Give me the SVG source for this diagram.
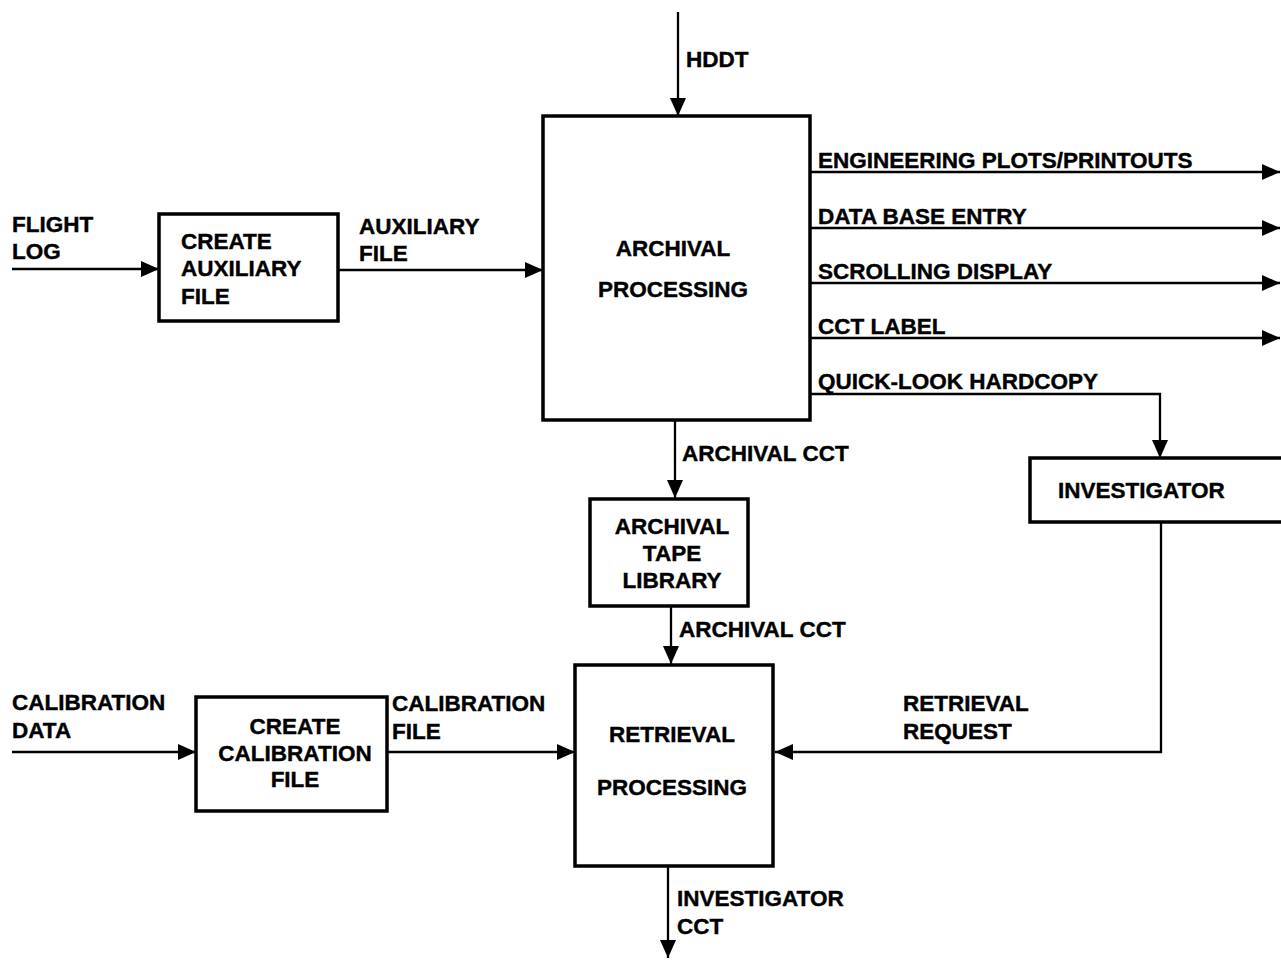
<svg xmlns="http://www.w3.org/2000/svg" width="1281" height="960" viewBox="0 0 1281 960">
<style>
text{font-family:"Liberation Sans",Arial,sans-serif;font-weight:bold;font-size:22.5px;fill:#000;stroke:#000;stroke-width:0.4}
.c{text-anchor:middle}
.box{fill:none;stroke:#000;stroke-width:3.5}
.ln{fill:none;stroke:#000;stroke-width:2.3}
</style>
<defs>
<marker id="ah" markerUnits="userSpaceOnUse" markerWidth="18" markerHeight="16" viewBox="0 0 18 16" refX="18" refY="8" orient="auto">
<path d="M0,0 L18,8 L0,16 Z" fill="#000"/>
</marker>
</defs>
<rect width="1281" height="960" fill="#fff"/>
<g id="connectors">
<line class="ln" x1="678" y1="12" x2="678" y2="116" marker-end="url(#ah)"/>
<line class="ln" x1="12" y1="269" x2="159" y2="269" marker-end="url(#ah)"/>
<line class="ln" x1="338" y1="270" x2="543" y2="270" marker-end="url(#ah)"/>
<line class="ln" x1="810" y1="172" x2="1280" y2="172" marker-end="url(#ah)"/>
<line class="ln" x1="810" y1="228" x2="1280" y2="228" marker-end="url(#ah)"/>
<line class="ln" x1="810" y1="283" x2="1280" y2="283" marker-end="url(#ah)"/>
<line class="ln" x1="810" y1="338" x2="1280" y2="338" marker-end="url(#ah)"/>
<polyline class="ln" points="810,394 1160,394 1160,458" marker-end="url(#ah)"/>
<line class="ln" x1="675" y1="420" x2="675" y2="498" marker-end="url(#ah)"/>
<line class="ln" x1="671" y1="606" x2="671" y2="664" marker-end="url(#ah)"/>
<polyline class="ln" points="1161,522 1161,752 775,752" marker-end="url(#ah)"/>
<line class="ln" x1="668" y1="866" x2="668" y2="958" marker-end="url(#ah)"/>
<line class="ln" x1="12" y1="752" x2="196" y2="752" marker-end="url(#ah)"/>
<line class="ln" x1="387" y1="752" x2="575" y2="752" marker-end="url(#ah)"/>
<text x="686" y="67">HDDT</text>
<text x="12" y="232">FLIGHT</text>
<text x="12" y="259">LOG</text>
<text x="359" y="234">AUXILIARY</text>
<text x="359" y="261">FILE</text>
<text x="818" y="168">ENGINEERING PLOTS/PRINTOUTS</text>
<text x="818" y="224">DATA BASE ENTRY</text>
<text x="818" y="279">SCROLLING DISPLAY</text>
<text x="818" y="334">CCT LABEL</text>
<text x="818" y="389">QUICK-LOOK HARDCOPY</text>
<text x="682" y="461">ARCHIVAL CCT</text>
<text x="679" y="637">ARCHIVAL CCT</text>
<text x="903" y="711">RETRIEVAL</text>
<text x="903" y="739">REQUEST</text>
<text x="12" y="710">CALIBRATION</text>
<text x="12" y="738">DATA</text>
<text x="392" y="711">CALIBRATION</text>
<text x="392" y="739">FILE</text>
<text x="677" y="906">INVESTIGATOR</text>
<text x="677" y="934">CCT</text>
</g>
<g id="archival-processing">
<rect class="box" x="543" y="116" width="267" height="304"/>
<text class="c" x="673" y="256">ARCHIVAL</text>
<text class="c" x="673" y="297">PROCESSING</text>
</g>
<g id="create-auxiliary-file">
<rect class="box" x="159" y="214" width="179" height="107"/>
<text x="181" y="249">CREATE</text>
<text x="181" y="276">AUXILIARY</text>
<text x="181" y="304">FILE</text>
</g>
<g id="investigator">
<rect class="box" x="1030" y="458" width="260" height="64"/>
<text x="1058" y="498">INVESTIGATOR</text>
</g>
<g id="archival-tape-library">
<rect class="box" x="590" y="499" width="158" height="107"/>
<text class="c" x="672" y="534">ARCHIVAL</text>
<text class="c" x="672" y="561">TAPE</text>
<text class="c" x="672" y="588">LIBRARY</text>
</g>
<g id="retrieval-processing">
<rect class="box" x="575" y="665" width="198" height="201"/>
<text class="c" x="672" y="742">RETRIEVAL</text>
<text class="c" x="672" y="795">PROCESSING</text>
</g>
<g id="create-calibration-file">
<rect class="box" x="196" y="697" width="191" height="114"/>
<text class="c" x="295" y="734">CREATE</text>
<text class="c" x="295" y="761">CALIBRATION</text>
<text class="c" x="295" y="787">FILE</text>
</g>
</svg>
